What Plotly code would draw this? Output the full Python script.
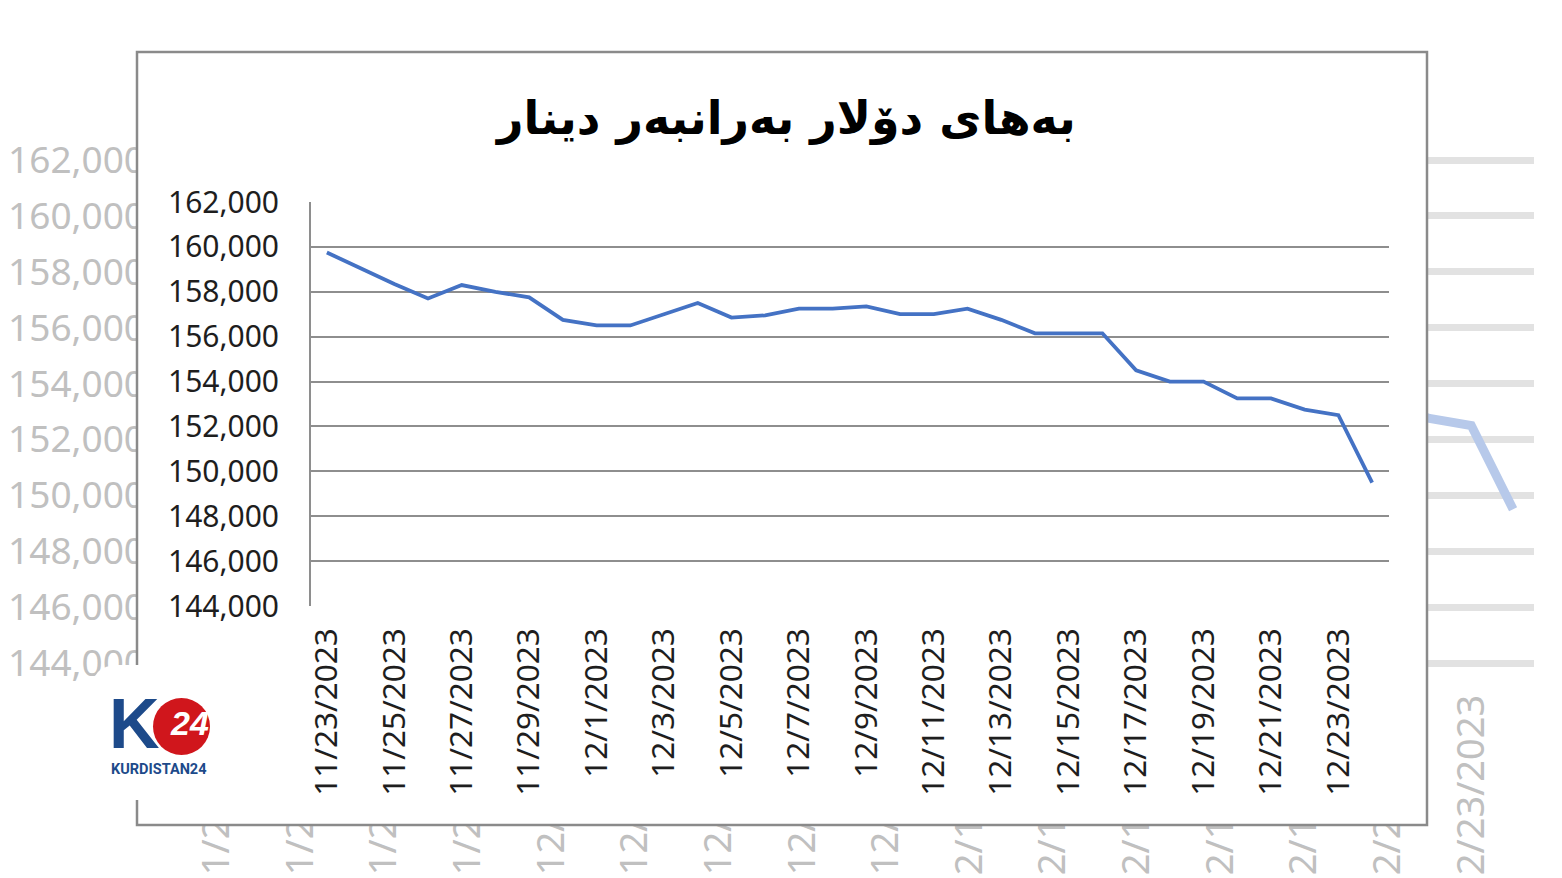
import plotly.graph_objects as go

# ---------------- data ----------------
dates = ['11/23/2023', '11/24/2023', '11/25/2023', '11/26/2023', '11/27/2023', '11/28/2023',
         '11/29/2023', '11/30/2023', '12/1/2023', '12/2/2023', '12/3/2023', '12/4/2023',
         '12/5/2023', '12/6/2023', '12/7/2023', '12/8/2023', '12/9/2023', '12/10/2023',
         '12/11/2023', '12/12/2023', '12/13/2023', '12/14/2023', '12/15/2023', '12/16/2023',
         '12/17/2023', '12/18/2023', '12/19/2023', '12/20/2023', '12/21/2023', '12/22/2023',
         '12/23/2023', '12/24/2023']
usd_iqd = [159750, 159050, 158350, 157700, 158300, 158000, 157750, 156750, 156500, 156500,
           157000, 157500, 156850, 156950, 157250, 157250, 157350, 157000, 157000, 157250,
           156750, 156150, 156150, 156150, 154500, 154000, 154000, 153250, 153250, 152750,
           152500, 149500]
tick_dates = dates[::2]
y_ticks = [144000, 146000, 148000, 150000, 152000, 154000, 156000, 158000, 160000, 162000]
y_range = [143960, 162040]
title_text = 'بەهای دۆلار بەرانبەر دینار'
logo_text = 'KURDISTAN24'

W, H = 1562, 878
OFF = 8  # the page places the figure 8px from the top-left corner
def px(x):
    return (x - OFF) / W
def py(y):
    return 1 - (y - OFF) / H

fig = go.Figure()

# ---- blurred background copy of the chart (ghost) on x/y ----
fig.add_trace(go.Scatter(x=dates, y=usd_iqd, mode='lines', xaxis='x', yaxis='y',
                         line=dict(color='#b7c9ea', width=9), hoverinfo='skip', showlegend=False))
# ---- white panel of the chart on x2/y2 (unit square in its own axes) ----
fig.add_trace(go.Scatter(x=[0, 1, 1, 0, 0], y=[0, 0, 1, 1, 0], mode='lines', fill='toself',
                         fillcolor='white', line=dict(color='white', width=0),
                         xaxis='x2', yaxis='y2', hoverinfo='skip', showlegend=False))
# ---- main chart on x3/y3 ----
fig.add_trace(go.Scatter(x=dates, y=usd_iqd, mode='lines', xaxis='x3', yaxis='y3',
                         line=dict(color='#4472C4', width=3.8), showlegend=False,
                         hovertemplate='%{x}<br>%{y:,}<extra></extra>'))

ghost_font = dict(family='Noto Sans', size=37, color='#c0c0c0')
ghost_xfont = dict(family='Noto Sans', size=38, color='#c0c0c0')
main_font = dict(family='Noto Sans', size=30, color='#1e1e1e')
main_xfont = dict(family='Noto Sans', size=31.5, color='#1e1e1e')

# ghost spans 144k..162k over y 663..160 ; main over 606..202
def dom(ybot, ytop):
    span = ybot - ytop
    k = span / (162000 - 144000)
    pad = 40 * k
    return [py(ybot + pad), py(ytop - pad)]

fig.update_layout(
    width=W, height=H, autosize=False,
    margin=dict(l=0, r=0, t=0, b=0, autoexpand=False),
    paper_bgcolor='white', plot_bgcolor='rgba(0,0,0,0)',
    showlegend=False,
    # ghost axes
    xaxis=dict(domain=[px(196), px(1534)], type='category', range=[-0.5, len(dates) - 0.5],
               tickmode='array', tickvals=tick_dates, ticktext=tick_dates, tickangle=-90,
               tickfont=ghost_xfont, ticklabelstandoff=22, showgrid=False, showline=False,
               ticks='', anchor='y', fixedrange=True, automargin=False),
    yaxis=dict(domain=dom(663, 160), range=y_range, tickmode='array',
               tickvals=y_ticks, tickformat=',', tickfont=ghost_font, ticklabelstandoff=50,
               showgrid=True, gridcolor='#e2e2e2', gridwidth=7, zeroline=False,
               showline=False, ticks='', anchor='x', fixedrange=True, automargin=False),
    # panel axes
    xaxis2=dict(domain=[px(137), px(1427)], range=[0, 1], visible=False, anchor='y2',
                fixedrange=True, automargin=False),
    yaxis2=dict(domain=[py(825), py(52)], range=[0, 1], visible=False, anchor='x2',
                fixedrange=True, automargin=False),
    # main axes
    xaxis3=dict(domain=[px(310), px(1389)], type='category', range=[-0.5, len(dates) - 0.5],
                tickmode='array', tickvals=tick_dates, ticktext=tick_dates, tickangle=-90,
                tickfont=main_xfont, ticklabelstandoff=14, showgrid=False,
                showline=False, ticks='', anchor='y3', fixedrange=True, automargin=False),
    yaxis3=dict(domain=dom(606, 202), range=y_range, tickmode='array',
                tickvals=y_ticks, tickformat=',', tickfont=main_font, ticklabelstandoff=30,
                showgrid=True, gridcolor='#8e8e8e', gridwidth=2, zeroline=False,
                showline=False, ticks='', anchor='x3', fixedrange=True, automargin=False),
)

# left axis line of the main chart
fig.add_shape(type='line', xref='x3 domain', yref='y3', x0=0, x1=0, y0=144000, y1=162000,
              line=dict(color='#8e8e8e', width=2), layer='above')

# chart title
fig.add_annotation(text='<b>' + title_text + '</b>', x=px(785), y=py(118), xref='paper',
                   yref='paper', showarrow=False, xanchor='center', yanchor='middle',
                   font=dict(family='DejaVu Sans', size=46, color='#000000'))

# panel border
fig.add_shape(type='rect', xref='paper', yref='paper', x0=px(137), x1=px(1427),
              y0=py(825), y1=py(52), line=dict(color='#8a8a8a', width=2.5),
              fillcolor='rgba(0,0,0,0)', layer='above')

# logo panel (white, rounded top-left corner)
x0, x1, y0, y1, r = px(92), px(250), py(800), py(665), 26
path = (f'M {x0},{y0} L {x0},{py(665 + r)} Q {x0},{y1} {px(92 + r)},{y1} '
        f'L {x1},{y1} L {x1},{y0} Z')
fig.add_shape(type='path', xref='paper', yref='paper', path=path, fillcolor='white',
              line=dict(color='white', width=0), layer='above')
# logo: red disc, K and 24
fig.add_shape(type='circle', xref='paper', yref='paper', x0=px(153), x1=px(210),
              y0=py(755), y1=py(698), fillcolor='#d0161c', line=dict(width=0), layer='above')
fig.add_annotation(text='<b>K</b>', x=px(134), y=py(724), xref='paper', yref='paper',
                   showarrow=False, xanchor='center', yanchor='middle',
                   font=dict(family='Liberation Sans', size=70, color='#1d4a8a'))
fig.add_annotation(text='<b><i>24</i></b>', x=px(189), y=py(723), xref='paper', yref='paper',
                   showarrow=False, xanchor='center', yanchor='middle',
                   font=dict(family='Liberation Sans', size=34, color='white'))
fig.add_annotation(text='<b>' + logo_text + '</b>', x=px(109), y=py(769), xref='paper',
                   yref='paper', showarrow=False, xanchor='left', yanchor='middle',
                   font=dict(family='Roboto', size=14.5, color='#1d4a8a'))

fig.write_html('out.html')
